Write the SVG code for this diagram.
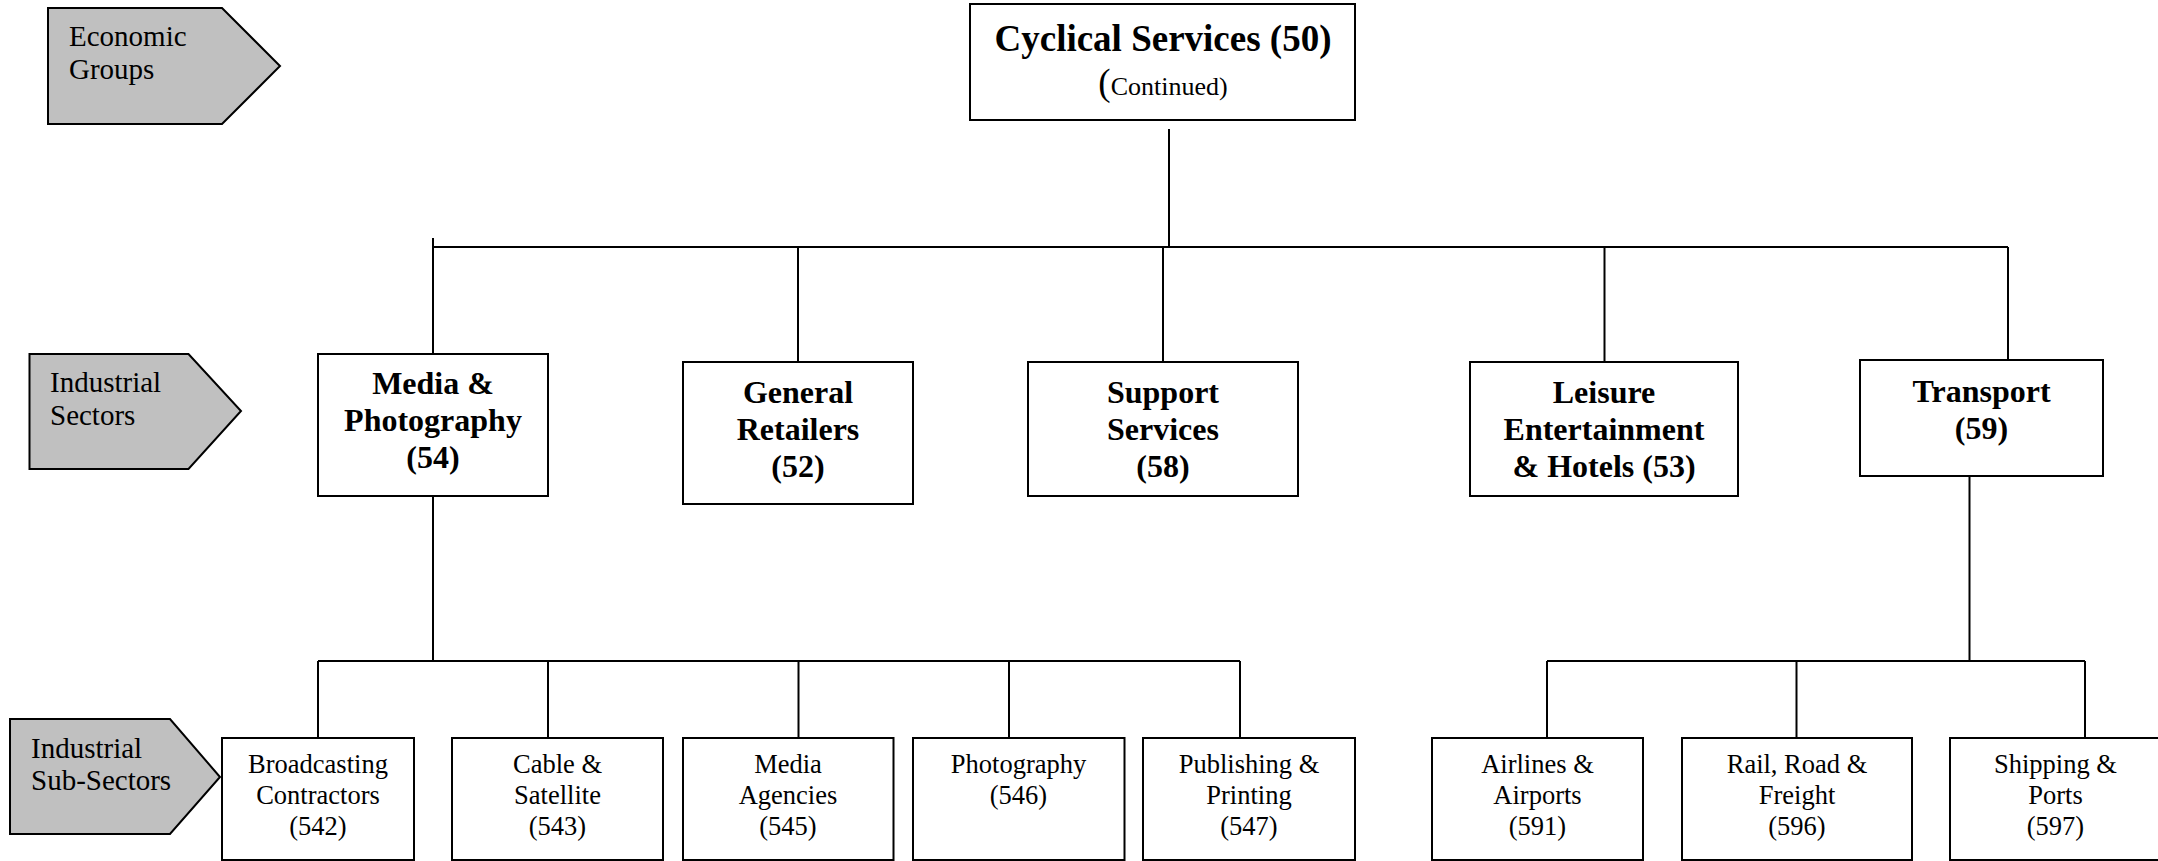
<svg xmlns="http://www.w3.org/2000/svg" width="2158" height="861" viewBox="0 0 2158 861">
<style>
  .lab { fill: #c0c0c0; stroke: #000; stroke-width: 2; }
  .box { fill: #fff; stroke: #000; stroke-width: 2; }
  .con { stroke: #000; stroke-width: 2; fill: none; }
  text { font-family: 'Liberation Serif', Tinos, 'Nimbus Roman', 'Times New Roman', serif; fill: #000; }
  .lt { font-size: 29px; }
  .st { font-size: 32px; font-weight: bold; text-anchor: middle; }
  .sub { font-size: 26.5px; text-anchor: middle; }
  .title { font-size: 37px; font-weight: bold; text-anchor: middle; }
  .cont { font-size: 26px; text-anchor: middle; }
</style>
<rect x="0" y="0" width="2158" height="861" fill="#fff"/>

<g id="connectors">
  <line class="con" x1="1169" y1="129" x2="1169" y2="247"/>
  <line class="con" x1="433" y1="247" x2="2008" y2="247"/>
  <line class="con" x1="433" y1="238" x2="433" y2="354"/>
  <line class="con" x1="798" y1="247" x2="798" y2="362"/>
  <line class="con" x1="1163" y1="247" x2="1163" y2="362"/>
  <line class="con" x1="1604.5" y1="247" x2="1604.5" y2="362"/>
  <line class="con" x1="2008" y1="247" x2="2008" y2="362"/>
  <line class="con" x1="433" y1="496" x2="433" y2="661"/>
  <line class="con" x1="318" y1="661" x2="1240" y2="661"/>
  <line class="con" x1="318" y1="661" x2="318" y2="738"/>
  <line class="con" x1="548" y1="661" x2="548" y2="738"/>
  <line class="con" x1="798.5" y1="661" x2="798.5" y2="738"/>
  <line class="con" x1="1009" y1="661" x2="1009" y2="738"/>
  <line class="con" x1="1240" y1="661" x2="1240" y2="738"/>
  <line class="con" x1="1969.5" y1="469" x2="1969.5" y2="661"/>
  <line class="con" x1="1547" y1="661" x2="2085" y2="661"/>
  <line class="con" x1="1547" y1="661" x2="1547" y2="738"/>
  <line class="con" x1="1796.5" y1="661" x2="1796.5" y2="738"/>
  <line class="con" x1="2085" y1="661" x2="2085" y2="738"/>
</g>

<g id="label-economic-groups">
  <polygon class="lab" points="48,8 222,8 280,66 222,124 48,124"/>
  <text class="lt" x="69" y="45.5">Economic</text>
  <text class="lt" x="69" y="79">Groups</text>
</g>
<g id="label-industrial-sectors">
  <polygon class="lab" points="29.5,354 188.5,354 241,411 188.5,469 29.5,469"/>
  <text class="lt" x="50" y="392">Industrial</text>
  <text class="lt" x="50" y="425">Sectors</text>
</g>
<g id="label-industrial-sub-sectors">
  <polygon class="lab" points="10,719 170,719 220,777 170,834 10,834"/>
  <text class="lt" x="31" y="757.5">Industrial</text>
  <text class="lt" x="31" y="790">Sub-Sectors</text>
</g>

<g id="node-cyclical-services">
  <rect class="box" x="970" y="4" width="385" height="116"/>
  <text class="title" x="1163" y="51">Cyclical Services (50)</text>
  <text class="cont" x="1163" y="95"><tspan font-size="37">(</tspan>Continued)</text>
</g>

<g id="node-media-photography">
  <rect class="box" x="318" y="354" width="230" height="142"/>
  <text class="st" x="433" y="394">Media &amp;</text>
  <text class="st" x="433" y="431">Photography</text>
  <text class="st" x="433" y="468">(54)</text>
</g>
<g id="node-general-retailers">
  <rect class="box" x="683" y="362" width="230" height="142"/>
  <text class="st" x="798" y="403">General</text>
  <text class="st" x="798" y="440">Retailers</text>
  <text class="st" x="798" y="477">(52)</text>
</g>
<g id="node-support-services">
  <rect class="box" x="1028" y="362" width="270" height="134"/>
  <text class="st" x="1163" y="403">Support</text>
  <text class="st" x="1163" y="440">Services</text>
  <text class="st" x="1163" y="477">(58)</text>
</g>
<g id="node-leisure">
  <rect class="box" x="1470" y="362" width="268" height="134"/>
  <text class="st" x="1604" y="403">Leisure</text>
  <text class="st" x="1604" y="440">Entertainment</text>
  <text class="st" x="1604" y="477">&amp; Hotels (53)</text>
</g>
<g id="node-transport">
  <rect class="box" x="1860" y="360" width="243" height="116"/>
  <text class="st" x="1981.5" y="402">Transport</text>
  <text class="st" x="1981.5" y="439">(59)</text>
</g>

<g id="node-542">
  <rect class="box" x="222" y="738" width="192" height="122"/>
  <text class="sub" x="318" y="773">Broadcasting</text>
  <text class="sub" x="318" y="804">Contractors</text>
  <text class="sub" x="318" y="835">(542)</text>
</g>
<g id="node-543">
  <rect class="box" x="452" y="738" width="211" height="122"/>
  <text class="sub" x="557.5" y="773">Cable &amp;</text>
  <text class="sub" x="557.5" y="804">Satellite</text>
  <text class="sub" x="557.5" y="835">(543)</text>
</g>
<g id="node-545">
  <rect class="box" x="683" y="738" width="210.5" height="122"/>
  <text class="sub" x="788" y="773">Media</text>
  <text class="sub" x="788" y="804">Agencies</text>
  <text class="sub" x="788" y="835">(545)</text>
</g>
<g id="node-546">
  <rect class="box" x="913" y="738" width="211.5" height="122"/>
  <text class="sub" x="1018.5" y="773">Photography</text>
  <text class="sub" x="1018.5" y="804">(546)</text>
</g>
<g id="node-547">
  <rect class="box" x="1143" y="738" width="212" height="122"/>
  <text class="sub" x="1249" y="773">Publishing &amp;</text>
  <text class="sub" x="1249" y="804">Printing</text>
  <text class="sub" x="1249" y="835">(547)</text>
</g>
<g id="node-591">
  <rect class="box" x="1432" y="738" width="211" height="122"/>
  <text class="sub" x="1537.5" y="773">Airlines &amp;</text>
  <text class="sub" x="1537.5" y="804">Airports</text>
  <text class="sub" x="1537.5" y="835">(591)</text>
</g>
<g id="node-596">
  <rect class="box" x="1682" y="738" width="230" height="122"/>
  <text class="sub" x="1797" y="773">Rail, Road &amp;</text>
  <text class="sub" x="1797" y="804">Freight</text>
  <text class="sub" x="1797" y="835">(596)</text>
</g>
<g id="node-597">
  <rect class="box" x="1950" y="738" width="212" height="122"/>
  <text class="sub" x="2055.5" y="773">Shipping &amp;</text>
  <text class="sub" x="2055.5" y="804">Ports</text>
  <text class="sub" x="2055.5" y="835">(597)</text>
</g>
</svg>
